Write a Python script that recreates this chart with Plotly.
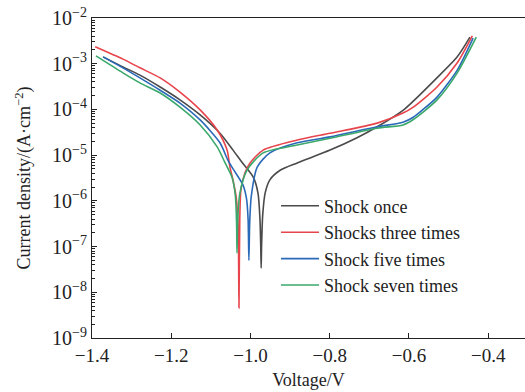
import plotly.graph_objects as go

# Values: voltage (V) and log10 of current density (A/cm^2)
# Shock once (black)
v_once = [-1.372, -1.322, -1.279, -1.228, -1.178, -1.127, -1.077, -1.044, -1.022, -0.993,
          -0.981, -0.976, -0.974, -0.973, -0.972, -0.969, -0.963, -0.951, -0.925, -0.882,
          -0.799, -0.731, -0.680, -0.615, -0.589, -0.535, -0.478, -0.446]
log_i_once = [-2.85, -3.07, -3.25, -3.51, -3.79, -4.12, -4.52, -4.89, -5.15, -5.48,
              -5.83, -6.4, -7.0, -7.47, -7.0, -6.3, -5.83, -5.54, -5.33, -5.17,
              -4.89, -4.62, -4.38, -4.02, -3.82, -3.36, -2.85, -2.42]

# Shocks three times (red)
v_three = [-1.392, -1.322, -1.279, -1.228, -1.178, -1.127, -1.084, -1.059, -1.052, -1.044,
           -1.036, -1.031, -1.029, -1.027, -1.024, -1.014, -1.001, -0.968, -0.882, -0.799,
           -0.680, -0.615, -0.589, -0.529, -0.478, -0.440]
log_i_three = [-2.63, -2.90, -3.09, -3.31, -3.62, -4.01, -4.45, -4.89, -5.25, -5.55,
               -5.92, -6.6, -8.34, -6.4, -5.75, -5.39, -5.17, -4.89, -4.67, -4.52,
               -4.30, -4.08, -3.95, -3.51, -2.98, -2.39]

# Shock five times (blue)
v_five = [-1.372, -1.322, -1.279, -1.228, -1.178, -1.127, -1.077, -1.057, -1.044, -1.019,
          -1.010, -1.006, -1.004, -1.002, -0.998, -0.983, -0.951, -0.882, -0.799, -0.680,
          -0.615, -0.589, -0.564, -0.529, -0.478, -0.438]
log_i_five = [-2.85, -3.09, -3.31, -3.58, -3.86, -4.23, -4.73, -5.11, -5.30, -5.65,
              -5.95, -6.4, -7.3, -6.5, -5.9, -5.26, -4.95, -4.73, -4.60, -4.38,
              -4.28, -4.17, -4.00, -3.73, -3.14, -2.44]

# Shock seven times (green)
v_seven = [-1.390, -1.355, -1.322, -1.279, -1.228, -1.178, -1.127, -1.084, -1.064, -1.046,
           -1.038, -1.035, -1.034, -1.032, -1.027, -1.009, -0.968, -0.882, -0.799, -0.680,
           -0.615, -0.589, -0.529, -0.478, -0.430]
log_i_seven = [-2.83, -3.02, -3.20, -3.42, -3.64, -3.95, -4.34, -4.82, -5.17, -5.50,
               -5.9, -6.5, -7.14, -6.4, -5.85, -5.33, -4.95, -4.78, -4.63, -4.41,
               -4.34, -4.22, -3.79, -3.20, -2.42]

names = ["Shock once", "Shocks three times", "Shock five times", "Shock seven times"]
colors = ["#4a4a4a", "#e8444c", "#2b6ab8", "#3aa86b"]
series = [(v_once, log_i_once), (v_three, log_i_three), (v_five, log_i_five), (v_seven, log_i_seven)]

y_tickvals = [1e-9, 1e-8, 1e-7, 1e-6, 1e-5, 1e-4, 1e-3, 1e-2]
y_ticktext = ["10<sup>−9</sup>", "10<sup>−8</sup>", "10<sup>−7</sup>", "10<sup>−6</sup>",
              "10<sup>−5</sup>", "10<sup>−4</sup>", "10<sup>−3</sup>", "10<sup>−2</sup>"]
x_tickvals = [-1.4, -1.2, -1.0, -0.8, -0.6, -0.4]
x_ticktext = ["−1.4", "−1.2", "−1.0", "−0.8", "−0.6", "−0.4"]

fig = go.Figure()
for (v, li), n, c in zip(series, names, colors):
    fig.add_trace(go.Scatter(x=v, y=[10 ** e for e in li], mode="lines", name=n,
                             line=dict(color=c, width=1.6, shape="spline", smoothing=0.7)))

font = "Liberation Serif"
fig.update_layout(
    width=525, height=392,
    margin=dict(l=92, r=0, t=18, b=54),
    paper_bgcolor="white", plot_bgcolor="white",
    font=dict(family=font, size=18, color="#222"),
    showlegend=True,
    legend=dict(x=0.425, y=0.47, xanchor="left", yanchor="top",
                bgcolor="rgba(0,0,0,0)", font=dict(size=18, family=font), itemwidth=38,
                tracegroupgap=0),
    xaxis=dict(range=[-1.4, -0.307], tickvals=x_tickvals, ticktext=x_ticktext,
               ticks="inside", ticklen=5, tickcolor="#222", showline=True, linecolor="#222",
               linewidth=1.2, mirror=True, showgrid=False, zeroline=False,
               title=dict(text="Voltage/V", standoff=8, font=dict(size=18)),
               tickfont=dict(size=19)),
    yaxis=dict(type="log", range=[-9, -2], tickvals=y_tickvals, ticktext=y_ticktext,
               ticks="inside", ticklen=5, tickcolor="#222", showline=True, linecolor="#222",
               linewidth=1.2, mirror=True, showgrid=False, zeroline=False,
               minor=dict(ticks="inside", ticklen=3, tickcolor="#222",
                          tickvals=[m * 10.0 ** e for e in range(-9, -2) for m in range(2, 10)]),
               title=dict(text="Current density/(A·cm<sup>−2</sup>)", standoff=16, font=dict(size=18)),
               tickfont=dict(size=20)),
)

fig.write_html("out.html")
